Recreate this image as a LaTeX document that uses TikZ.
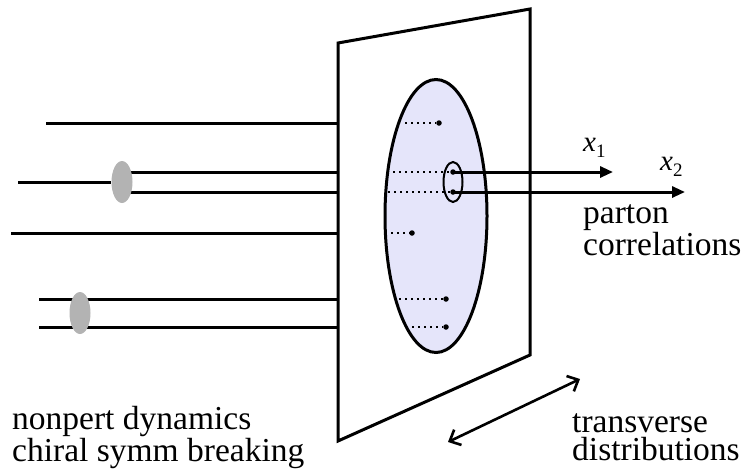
\documentclass[tikz,border=0pt]{standalone}
\usepackage{fontspec}
\setmainfont{Liberation Serif}
\usetikzlibrary{arrows.meta,shapes.geometric}
\definecolor{disk}{RGB}{229,229,250}
\definecolor{blob}{RGB}{179,179,179}
\begin{document}
\begin{tikzpicture}[x=1pt,y=-1pt,
  heavy/.style={line width=3pt},
  dotline/.style={line width=1.5pt, dash pattern=on 1.5pt off 4.5pt},
  dotmark/.style={circle, fill=black, inner sep=0pt, minimum size=5.5pt},
  blobnode/.style={ellipse, fill=blob, inner sep=0pt, minimum width=21pt, minimum height=42pt},
  label/.style={anchor=base west, inner sep=0pt, align=left},
  bigfont/.style={font=\fontsize{33.5}{28}\selectfont},
  xfont/.style={font=\fontsize{29}{29}\selectfont}]
\useasboundingbox (0,0) rectangle (744,469);

% transverse plane
\coordinate (ptl) at (338,43);
\coordinate (ptr) at (530,9);
\coordinate (pbr) at (530,355);
\coordinate (pbl) at (338,441);

% incoming lines (left)
\coordinate (l1) at (46,123);   \coordinate (e1) at (338,123);
\coordinate (l2) at (18,182);
\coordinate (b2a) at (122,172); \coordinate (e2a) at (338,172);
\coordinate (b2b) at (122,192); \coordinate (e2b) at (338,192);
\coordinate (l3) at (11,233);   \coordinate (e3) at (338,233);
\coordinate (l4) at (39,299);   \coordinate (e4) at (338,299);
\coordinate (l5) at (39,327);   \coordinate (e5) at (338,327);

\draw[heavy] (l1) -- (e1);
\draw[heavy] (b2a) -- (e2a);
\draw[heavy] (b2b) -- (e2b);
\draw[heavy] (l3) -- (e3);
\draw[heavy] (l4) -- (e4);
\draw[heavy] (l5) -- (e5);
\node[blobnode] (blobA) at (122,182) {};
\draw[heavy] (l2) -- (blobA.west);
\node[blobnode] (blobB) at (80,313) {};

% plane outline
\draw[heavy, line join=miter] (ptl) -- (ptr) -- (pbr) -- (pbl) -- cycle;

% disk
\node[draw, ellipse, fill=disk, heavy, minimum width=102pt, minimum height=273pt, inner sep=0pt] (disk) at (436,216) {};

% partons in the disk
\node[dotmark] (p1) at (439,123) {};
\node[dotmark] (q1) at (453,172) {};
\node[dotmark] (q2) at (453,192) {};
\node[dotmark] (p3) at (412,233) {};
\node[dotmark] (p4) at (446,299) {};
\node[dotmark] (p5) at (446,327) {};
\coordinate (d1) at (405,123);
\coordinate (dq1) at (393,172);
\coordinate (dq2) at (388,192);
\coordinate (d3) at (391,233);
\coordinate (d4) at (399,299);
\coordinate (d5) at (412,327);
\draw[dotline] (d1) -- (p1);
\draw[dotline] (dq1) -- (q1);
\draw[dotline] (dq2) -- (q2);
\draw[dotline] (d3) -- (p3);
\draw[dotline] (d4) -- (p4);
\draw[dotline] (d5) -- (p5);

\node[draw, ellipse, line width=2pt, minimum width=19pt, minimum height=40pt, inner sep=0pt] (pair) at (453,182) {};

% outgoing partons
\coordinate (x1end) at (613,172);
\coordinate (x2end) at (685,192);
\draw[heavy, -{Triangle[length=13pt,width=11pt]}] (q1.center) -- (x1end);
\draw[heavy, -{Triangle[length=13pt,width=11pt]}] (q2.center) -- (x2end);
\node[label, xfont] (x1) at (583,151) {\itshape x\raisebox{-0.22em}{\fontsize{19}{19}\selectfont\upshape 1}};
\node[label, xfont] (x2) at (660,170) {\itshape x\raisebox{-0.22em}{\fontsize{19}{19}\selectfont\upshape 2}};

% transverse double arrow
\coordinate (ta) at (448,442);
\coordinate (tb) at (580,379);
\draw[line width=2.6pt, {Straight Barb[length=9pt,width=17pt]}-{Straight Barb[length=9pt,width=17pt]}] (ta) -- (tb);

% labels (base anchor = last line's baseline)
\node[label, font=\fontsize{33.5}{23.5}\selectfont] (lparton) at (583,255) {parton\\correlations};
\node[label, bigfont] (lnonpert) at (12,461) {nonpert dynamics\\chiral symm breaking};
\node[label, bigfont] (ltrans) at (572,460) {transverse\\distributions};
\end{tikzpicture}
\end{document}
